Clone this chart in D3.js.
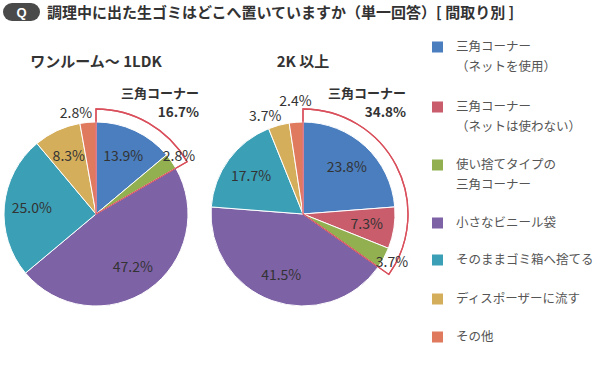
<!DOCTYPE html>
<html><head><meta charset="utf-8">
<script src="https://cdn.jsdelivr.net/npm/d3@7"></script>
<style>
html,body{margin:0;padding:0;background:#fff;}
svg{display:block;font-family:"Noto Sans CJK JP","Noto Sans",sans-serif;}
</style></head>
<body>
<svg id="c" width="600" height="375"></svg>
<script>
const titleText = "調理中に出た生ゴミはどこへ置いていますか（単一回答）[ 間取り別 ]";
const categories = [
  ["三角コーナー","（ネットを使用）"],
  ["三角コーナー","（ネットは使わない）"],
  ["使い捨てタイプの","三角コーナー"],
  ["小さなビニール袋"],
  ["そのままゴミ箱へ捨てる"],
  ["ディスポーザーに流す"],
  ["その他"]
];
const colors = ["#4a7ebf","#c95d6c","#92b050","#7e62a6","#3b9fb6","#d5ae5c","#e07a5f"];
const groupTitles = ["ワンルーム～ 1LDK","2K 以上"];
const oneRoomValues = [13.9, 0, 2.8, 47.2, 25.0, 8.3, 2.8];
const twoKValues = [23.8, 7.3, 3.7, 41.5, 17.7, 3.7, 2.4];
const cornerLabel = "三角コーナー";
const cornerTotals = ["16.7%","34.8%"];

const svg = d3.select("#c");

// Title
svg.append("rect").attr("x",3).attr("y",3).attr("width",37).attr("height",18).attr("rx",9).attr("fill","#4a4a4a");
svg.append("text").attr("x",21.5).attr("y",17).attr("text-anchor","middle").attr("fill","#fff")
  .attr("font-weight","bold").attr("font-size",13).attr("font-family","Arial, Liberation Sans, sans-serif").text("Q");
svg.append("text").attr("x",47).attr("y",17.5).attr("fill","#333").attr("font-weight","bold").attr("font-size",15).text(titleText);

const R = 92, RO = 105;
const pie = d3.pie().sort(null).value(d=>d);
const arc = d3.arc().innerRadius(0).outerRadius(R);

function drawPie(values, cx, cy, title, total){
  const g = svg.append("g").attr("transform",`translate(${cx},${cy})`);
  const arcs = pie(values);
  svg.append("text").attr("x",cx).attr("y",67).attr("text-anchor","middle").attr("fill","#333")
    .attr("font-weight","bold").attr("font-size",15).text(title);
  const endA = arcs[2].endAngle;
  const outline = d3.arc().innerRadius(0).outerRadius(RO)({startAngle:0,endAngle:endA});
  g.append("path").attr("d", outline).attr("fill","#fff").attr("stroke","#d9505c").attr("stroke-width",1.3);
  g.selectAll("path.s").data(arcs).join("path").attr("class","s")
    .attr("d",arc).attr("fill",(d,i)=>colors[i]).attr("stroke","#fff").attr("stroke-width",1)
    .attr("display",d=>d.value>0?null:"none");
  g.append("path").attr("d", outline).attr("fill","none").attr("stroke","#d9505c").attr("stroke-width",1.3);
  const placed = [];
  arcs.forEach((d,i)=>{
    if(d.value<=0) return;
    const a = (d.startAngle+d.endAngle)/2;
    const small = d.value < 5;
    const rr = small ? R*1.1 : R*0.7;
    let x = rr*Math.sin(a), y = -rr*Math.cos(a);
    let anchor = "middle";
    if(small && a > Math.PI*1.5){ anchor="end"; x += 5; }
    const txt = d.value.toFixed(1)+"%";
    const w = 36;
    let x0 = anchor==="end"? x-w : x-w/2, x1 = x0+w;
    if(small){
      placed.forEach(p=>{
        if(x0 < p.x1 && x1 > p.x0 && Math.abs(y-p.y) < 15){
          y = p.y - 15;
          x0 = p.x1 - 2; x1 = x0 + w;
          anchor = "start"; x = x0;
        }
      });
      placed.push({x0,x1,y});
    }
    g.append("text").attr("x",x).attr("y",y).attr("dy","0.35em").attr("text-anchor",anchor)
      .attr("fill","#333").attr("font-size",14).text(txt);
  });
  g.append("text").attr("x",RO-2).attr("y",-RO-16).attr("dy","0.35em").attr("text-anchor","end")
    .attr("fill","#333").attr("font-weight","bold").attr("font-size",13).text(cornerLabel);
  g.append("text").attr("x",RO-2).attr("y",-RO+3).attr("dy","0.35em").attr("text-anchor","end")
    .attr("fill","#333").attr("font-weight","bold").attr("font-size",13.5).text(total);
}
drawPie(oneRoomValues, 96, 214, groupTitles[0], cornerTotals[0]);
drawPie(twoKValues, 303, 214, groupTitles[1], cornerTotals[1]);

// Legend
const legendY = [47,107,165,223,260,299,337];
const lg = svg.append("g");
categories.forEach((c,i)=>{
  lg.append("rect").attr("x",432).attr("y",legendY[i]-5.5).attr("width",11).attr("height",11).attr("fill",colors[i]);
  c.forEach((t,j)=>{
    lg.append("text").attr("x",456).attr("y",legendY[i]+j*20).attr("dy","0.35em").attr("fill","#555")
      .attr("font-size",12.5).text(t);
  });
});
</script>
</body></html>
